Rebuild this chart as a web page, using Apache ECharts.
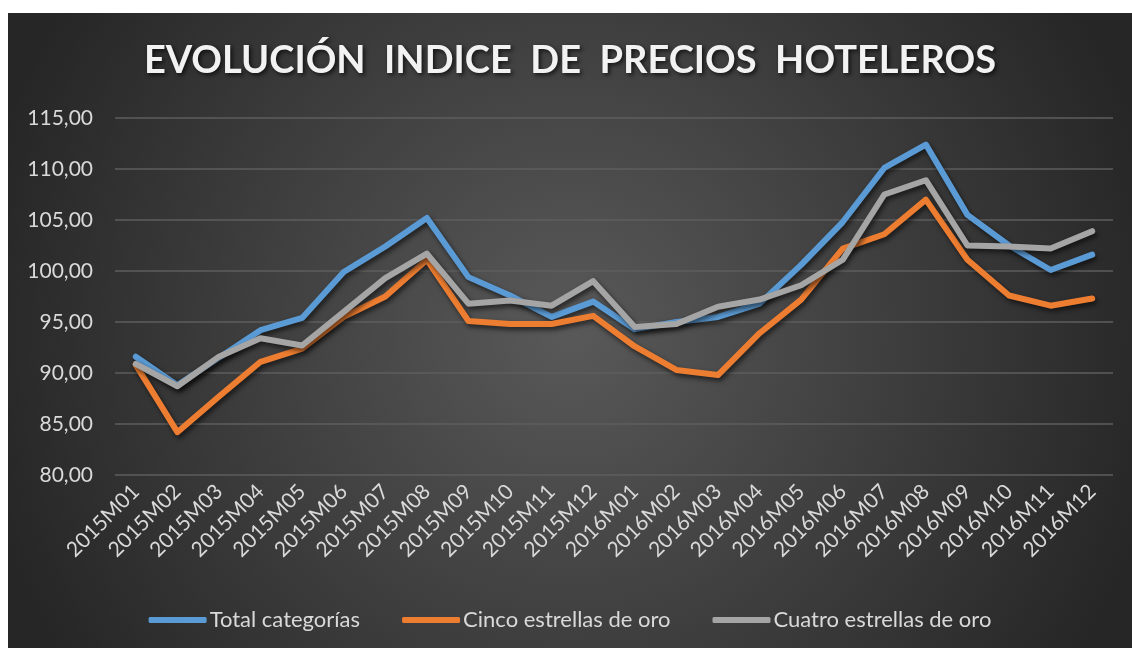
<!DOCTYPE html>
<html lang="es">
<head>
    <meta charset="UTF-8">
    <script src="https://cdn.jsdelivr.net/npm/echarts@6/dist/echarts.min.js"></script>
    <title>Evolución índice de precios hoteleros</title>
    <style>
        html, body { margin: 0; padding: 0; background: #fff; width: 100%; height: 100%; }
        #chart { position: absolute; left: 8px; top: 13px; width: 1124px; height: 635px; }
    </style>
</head>
<body>
    <div id="chart"></div>
    <script>
        var months = ['2015M01', '2015M02', '2015M03', '2015M04', '2015M05', '2015M06',
            '2015M07', '2015M08', '2015M09', '2015M10', '2015M11', '2015M12',
            '2016M01', '2016M02', '2016M03', '2016M04', '2016M05', '2016M06',
            '2016M07', '2016M08', '2016M09', '2016M10', '2016M11', '2016M12'];

        var totalCategorias = [91.6, 88.8, 91.5, 94.2, 95.4, 99.9, 102.4, 105.2, 99.4, 97.6, 95.5, 97.0,
            94.3, 95.0, 95.5, 96.8, 100.6, 104.8, 110.1, 112.4, 105.5, 102.5, 100.1, 101.6];
        var cincoEstrellas = [90.8, 84.2, 87.7, 91.1, 92.4, 95.5, 97.5, 101.1, 95.1, 94.8, 94.8, 95.6,
            92.6, 90.3, 89.8, 93.9, 97.2, 102.2, 103.6, 107.0, 101.1, 97.6, 96.6, 97.3];
        var cuatroEstrellas = [90.9, 88.7, 91.6, 93.4, 92.7, 96.0, 99.3, 101.7, 96.8, 97.1, 96.6, 99.0,
            94.5, 94.8, 96.5, 97.2, 98.6, 101.1, 107.5, 108.9, 102.5, 102.4, 102.2, 103.9];

        var chart = echarts.init(document.getElementById('chart'));

        function lineSeries(name, data, color) {
            return {
                name: name,
                type: 'line',
                data: data,
                symbol: 'none',
                lineStyle: {
                    color: color,
                    width: 6,
                    cap: 'round',
                    join: 'round',
                    shadowColor: 'rgba(0,0,0,0.6)',
                    shadowBlur: 5,
                    shadowOffsetX: 2,
                    shadowOffsetY: 3
                },
                itemStyle: { color: color },
                animation: false
            };
        }

        chart.setOption({
            backgroundColor: new echarts.graphic.RadialGradient(0.5, 0.5, 0.95, [
                { offset: 0, color: '#595959' },
                { offset: 1, color: '#262626' }
            ]),
            textStyle: { fontFamily: 'Lato' },
            title: {
                text: 'EVOLUCIÓN  INDICE  DE  PRECIOS  HOTELEROS',
                left: 'center',
                top: 24,
                textStyle: {
                    color: '#f2f2f2',
                    fontSize: 38,
                    fontWeight: 'bold',
                    fontFamily: 'Lato',
                    textShadowColor: 'rgba(0,0,0,0.7)',
                    textShadowBlur: 4,
                    textShadowOffsetX: 2,
                    textShadowOffsetY: 2
                }
            },
            legend: {
                bottom: 12,
                left: 'center',
                icon: 'roundRect',
                itemWidth: 58,
                itemHeight: 6,
                itemGap: 42,
                textStyle: { color: '#d9d9d9', fontSize: 22, padding: [0, 0, 0, -2] }
            },
            grid: { left: 107, right: 19, top: 105, bottom: 173 },
            xAxis: {
                type: 'category',
                data: months,
                axisLine: { show: false },
                axisTick: { show: false },
                axisLabel: { color: '#d9d9d9', fontSize: 21, rotate: 45, margin: 13, interval: 0 }
            },
            yAxis: {
                type: 'value',
                min: 80,
                max: 115,
                interval: 5,
                axisLabel: {
                    color: '#d9d9d9',
                    fontSize: 21,
                    margin: 22,
                    formatter: function (v) { return v.toFixed(2).replace('.', ','); }
                },
                splitLine: { lineStyle: { color: '#5e5e5e', width: 1.5 } }
            },
            series: [
                lineSeries('Total categorías', totalCategorias, '#5b9bd5'),
                lineSeries('Cinco estrellas de oro', cincoEstrellas, '#ed7d31'),
                lineSeries('Cuatro estrellas de oro', cuatroEstrellas, '#a5a5a5')
            ]
        });
    </script>
</body>
</html>
